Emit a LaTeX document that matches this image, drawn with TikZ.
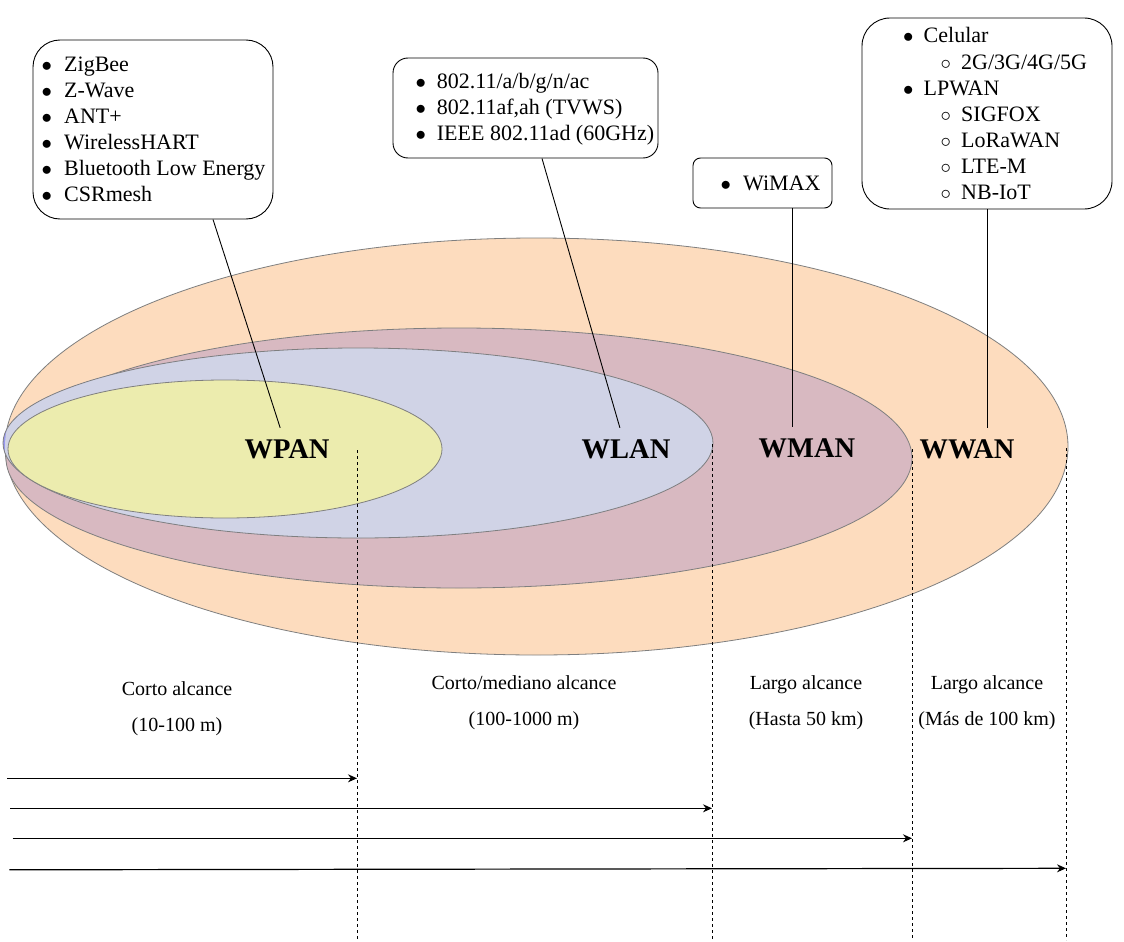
\documentclass[tikz,border=0pt]{standalone}
\usepackage{fontspec}
\setmainfont{Liberation Serif}
\usetikzlibrary{arrows.meta}
\definecolor{wanfill}{HTML}{FDDCBE}
\definecolor{manfill}{HTML}{D8B9C1}
\definecolor{lanfill}{HTML}{D0D3E6}
\definecolor{lanedge}{HTML}{9A9AEF}
\definecolor{panfill}{HTML}{ECECAE}
\definecolor{rim}{HTML}{7F7F7F}
\tikzset{
  zone/.style={draw=rim, line width=0.8pt},
  listbox/.style={draw, rounded corners=#1, line width=0.9pt},
  item/.style={anchor=base west, inner sep=0pt, font=\fontsize{22}{26}\selectfont},
  net/.style={font=\fontsize{28.5}{32}\selectfont\bfseries, minimum height=42pt},
  spanlabel/.style={font=\fontsize{20}{36}\selectfont, align=center},
  guide/.style={dashed, dash pattern=on 3pt off 3pt, line width=0.9pt},
  arrow/.style={line width=1.2pt, -{Stealth[length=9pt,width=8pt]}},
}

\begin{document}
\begin{tikzpicture}[x=1pt, y=-1pt]
  \fill[white] (0,0) rectangle (1124,942);
  \useasboundingbox (0,0) rectangle (1124,942);

  % coverage areas
  \draw[zone, fill=wanfill] (536.5,446.5) ellipse [x radius=531.5, y radius=208.5];
  \draw[zone, fill=manfill] (459,458) ellipse [x radius=453, y radius=130];
  \fill[lanedge] (358,443) ellipse [x radius=355, y radius=95];
  \begin{scope}
    \clip (536.5,446.5) ellipse [x radius=531.5, y radius=208.5];
    \fill[lanfill] (358,443) ellipse [x radius=355, y radius=95];
  \end{scope}
  \draw[zone] (358,443) ellipse [x radius=355, y radius=95];
  \draw[zone, fill=panfill] (225,449) ellipse [x radius=217, y radius=69];

  % technology boxes
  \node[listbox=27pt, minimum width=240pt, minimum height=179pt] (panbox) at (153,129.5) {};
  \node[listbox=15pt, minimum width=265pt, minimum height=100pt] (lanbox) at (525.5,108) {};
  \node[listbox=7.5pt, minimum width=139pt, minimum height=50pt] (manbox) at (762.5,183) {};
  \node[listbox=28pt, minimum width=250pt, minimum height=191pt] (wanbox) at (987,113.5) {};

  \foreach \t [count=\i] in {ZigBee, Z-Wave, ANT+, WirelessHART, Bluetooth Low Energy, CSRmesh}
    \node[item] (pan\i) at ({41.5},{71+26.1*(\i-1)}) {\makebox[22.5pt][l]{$\bullet$}\t};
  \foreach \t [count=\i] in {802.11/a/b/g/n/ac, {802.11af,ah (TVWS)}, IEEE 802.11ad (60GHz)}
    \node[item] (lan\i) at ({415.5},{88.5+26*(\i-1)}) {\makebox[21.2pt][l]{$\bullet$}\t};
  \node[item] (man1) at (720.5,190) {\makebox[22.5pt][l]{$\bullet$}WiMAX};
  \foreach \lvl/\t [count=\i] in {0/Celular, 1/{2G/3G/4G/5G}, 0/LPWAN, 1/SIGFOX, 1/LoRaWAN, 1/LTE-M, 1/NB-IoT}
    \node[item] (wan\i) at ({903+37.5*\lvl},{43+26.1*(\i-1)})
      {\makebox[20.5pt][l]{\ifnum\lvl=0 $\bullet$\else$\circ$\fi}\t};

  % network names
  \node[net] (wpan) at (287,449) {WPAN};
  \node[net] (wlan) at (626,449) {WLAN};
  \node[net] (wman) at (807,448) {WMAN};
  \node[net] (wwan) at (967,449) {WWAN};

  \draw[line width=0.9pt] ([xshift=60pt]panbox.south) -- (wpan);
  \draw[line width=0.9pt] ([xshift=16.5pt]lanbox.south) -- (wlan);
  \draw[line width=0.9pt] ([xshift=29.5pt]manbox.south) -- ([xshift=29.5pt]manbox.south |- wman.north);
  \draw[line width=0.9pt] (wanbox.south) -- (wanbox.south |- wwan.north);

  % range limits
  \coordinate (d1t) at (357,450);  \coordinate (d1b) at (357,940);
  \coordinate (d2t) at (712,444);  \coordinate (d2b) at (712,940);
  \coordinate (d3t) at (912,449);  \coordinate (d3b) at (912,940);
  \coordinate (d4t) at (1066,448); \coordinate (d4b) at (1066,940);
  \foreach \k in {1,2,3,4}
    \draw[guide] (d\k t) -- (d\k b);

  \node[spanlabel] (r1) at (177,709) {Corto alcance\\(10-100 m)};
  \node[spanlabel] (r2) at (524,703) {Corto/mediano alcance\\(100-1000 m)};
  \node[spanlabel] (r3) at (806,703) {Largo alcance\\(Hasta 50 km)};
  \node[spanlabel] (r4) at (987,703) {Largo alcance\\(Más de 100 km)};

  \coordinate (s1) at (7,778.3);
  \coordinate (s2) at (10,808.3);
  \coordinate (s3) at (12.7,838.3);
  \coordinate (s4) at (9.3,869.8);
  \draw[arrow] (s1) -- (s1 -| d1t);
  \draw[arrow] (s2) -- (s2 -| d2t);
  \draw[arrow] (s3) -- (s3 -| d3t);
  \draw[arrow] (s4) -- ([yshift=1.5pt]s4 -| d4t);
\end{tikzpicture}
\end{document}
